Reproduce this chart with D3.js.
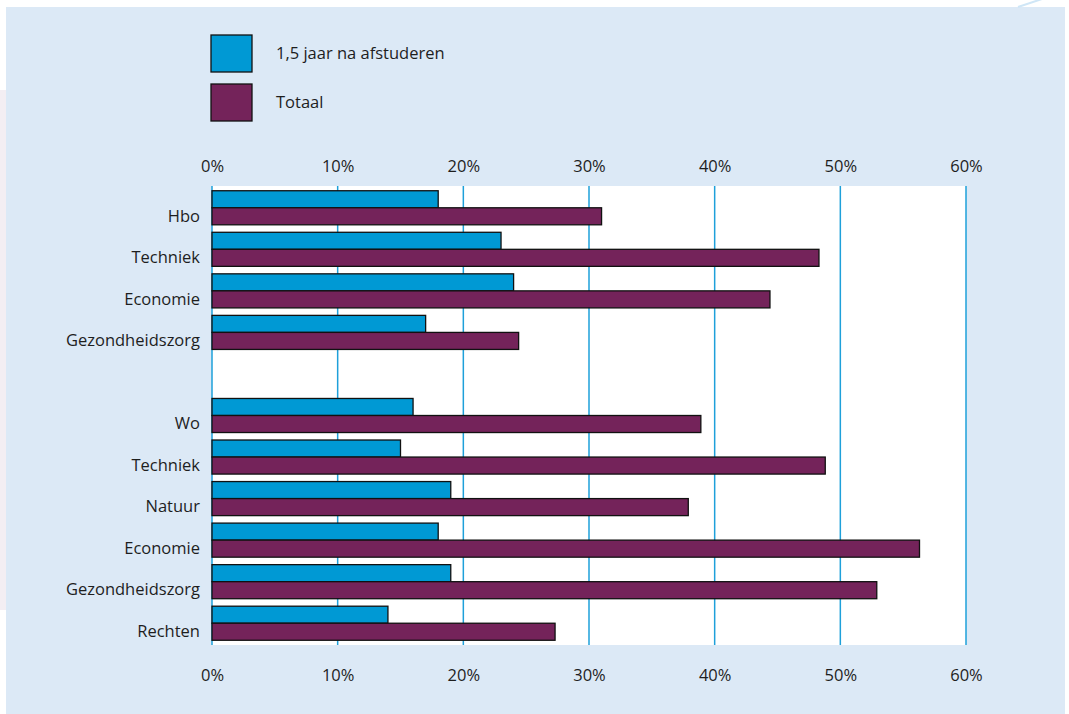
<!DOCTYPE html>
<html><head><meta charset="utf-8">
<script src="https://cdn.jsdelivr.net/npm/d3@7/dist/d3.min.js"></script>
<style>body{margin:0;background:#fff}svg{display:block}text{font-family:"Open Sans",sans-serif;fill:#1e1e1e}</style>
</head><body>
<script>
const categories = ["Hbo","Techniek","Economie","Gezondheidszorg","","Wo","Techniek ","Natuur","Economie ","Gezondheidszorg ","Rechten"];
const seriesNames = ["1,5 jaar na afstuderen","Totaal"];
const afgestudeerd = [18,23,24,17,null,16,15,19,18,19,14];
const totaal = [31,48.3,44.4,24.4,null,38.9,48.8,37.9,56.3,52.9,27.3];
const ticks = [0,10,20,30,40,50,60];
const colors = ["#0099d4","#74235a"];

const W=1069,H=714,FS=16.5;
const svg=d3.select("body").append("svg").attr("width",W).attr("height",H);
// panel background
svg.append("rect").attr("x",0).attr("y",90).attr("width",7).attr("height",520).attr("fill","#f3eef3");
svg.append("rect").attr("x",6).attr("y",7).attr("width",1059).attr("height",707).attr("fill","#dce9f6");
svg.append("line").attr("x1",1018).attr("y1",7).attr("x2",1045).attr("y2",-2).attr("stroke","#cfe6f6").attr("stroke-width",2);

const x=d3.scaleLinear().domain([0,60]).range([212,966]);
const y=d3.scaleBand().domain(categories.map((c,i)=>i)).range([187,644]).paddingInner(0.18).paddingOuter(0.09);
const plotTop=186,plotBot=645;
svg.append("rect").attr("x",x(0)).attr("y",plotTop).attr("width",x(60)-x(0)).attr("height",plotBot-plotTop).attr("fill","#fff");
svg.selectAll("line.grid").data(ticks).join("line").attr("class","grid")
  .attr("x1",d=>x(d)).attr("x2",d=>x(d)).attr("y1",plotTop).attr("y2",plotBot)
  .attr("stroke","#1ea0da").attr("stroke-width",1.5);

const fmt=d=>d+"%";
const gt=svg.append("g").attr("transform","translate(0,172)").call(d3.axisTop(x).tickValues(ticks).tickFormat(fmt).tickSize(0).tickPadding(0));
const gb=svg.append("g").attr("transform","translate(0,676)").call(d3.axisBottom(x).tickValues(ticks).tickFormat(fmt).tickSize(0).tickPadding(0));
[gt,gb].forEach(g=>{g.select(".domain").remove();g.selectAll("text").attr("font-size",FS).attr("font-family","Open Sans").attr("fill","#1e1e1e");});
gb.selectAll("text").attr("dy","0.32em");
gt.selectAll("text").attr("dy","0");

const bh=y.bandwidth()/2;
const data=[afgestudeerd,totaal];
data.forEach((vals,s)=>{
  svg.selectAll("rect.s"+s).data(vals.map((v,i)=>({v,i})).filter(d=>d.v!=null)).join("rect").attr("class","s"+s)
    .attr("x",x(0)).attr("y",d=>y(d.i)+s*bh).attr("width",d=>x(d.v)-x(0)).attr("height",bh)
    .attr("fill",colors[s]).attr("stroke","#111").attr("stroke-width",1.3);
});
// category labels, aligned with the second bar of each group
const gy=svg.append("g").attr("transform",`translate(200,${bh/2})`).call(d3.axisLeft(y).tickFormat(i=>categories[i].trim()).tickSize(0).tickPadding(0));
gy.select(".domain").remove();
gy.selectAll("text").attr("font-size",FS).attr("font-family","Open Sans").attr("fill","#1e1e1e");

// legend
const lg=svg.append("g");
seriesNames.forEach((n,i)=>{
  lg.append("rect").attr("x",211).attr("y",35+i*49).attr("width",41).attr("height",37).attr("fill",colors[i]).attr("stroke","#111").attr("stroke-width",1.3);
  lg.append("text").attr("x",276).attr("y",53+i*49).attr("dy","0.35em").attr("font-size",FS).text(n);
});
</script>
</body></html>
